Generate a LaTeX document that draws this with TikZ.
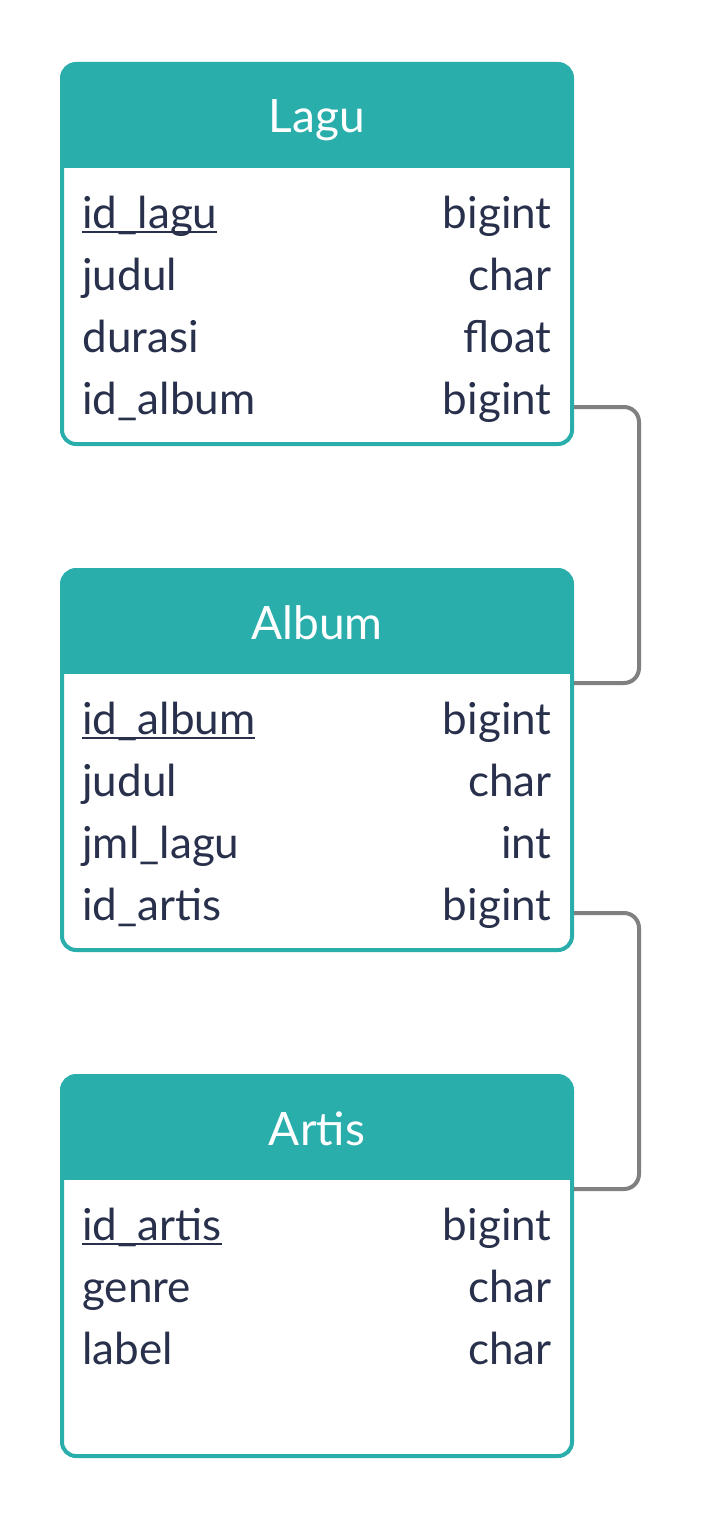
\documentclass[tikz,border=0pt]{standalone}
\usepackage{fontspec}
\setmainfont{Lato}
\usetikzlibrary{calc}

\definecolor{tealhead}{RGB}{42,174,172}
\definecolor{fieldtext}{RGB}{40,48,76}
\definecolor{relgray}{RGB}{128,128,128}

% primary key: underlined field name
\newcommand{\keyfield}[1]{\leavevmode\setbox0\hbox{#1}\rlap{\rule[-2.6pt]{\wd0}{0.9pt}}\box0}

\begin{document}
\begin{tikzpicture}[x=0.5pt,y=-0.5pt,
  tablebox/.style={draw=tealhead, line width=2pt, fill=white,
    rounded corners=7pt, minimum width=255pt, minimum height=190pt,
    inner sep=0pt,
    path picture={\fill[tealhead,sharp corners]
      (path picture bounding box.north west) rectangle
      ([yshift=-52pt]path picture bounding box.north east);}},
  headtext/.style={anchor=base, inner sep=0pt, text=white,
    font=\fontsize{23}{27}\selectfont},
  fieldname/.style={anchor=base west, inner sep=0pt, text=fieldtext,
    font=\fontsize{22}{26}\selectfont},
  fieldtype/.style={anchor=base east, inner sep=0pt, text=fieldtext,
    font=\fontsize{22}{26}\selectfont},
  relation/.style={draw=relgray, line width=2pt, rounded corners=7.5pt}
]
  \fill[white] (0,0) rectangle (704,1520);
  \useasboundingbox (0,0) rectangle (704,1520);

  % tables
  \node[tablebox] (lagu) at (317,254) {};
  \node[tablebox] (album) at (317,760) {};
  \node[tablebox] (artis) at (317,1266) {};

  % titles
  \node[headtext] (laguHead) at (317,133) {Lagu};
  \node[headtext] (albumHead) at (317,639) {Album};
  \node[headtext] (artisHead) at (317,1145) {Artis};

  % fields
  \foreach \fname/\ftype [count=\i] in {\keyfield{id\_lagu}/bigint, judul/char, durasi/float, id\_album/bigint} {
    \node[fieldname] (laguN\i) at (82,166+62*\i) {\fname};
    \node[fieldtype] (laguT\i) at (552,166+62*\i) {\ftype};
  }
  \foreach \fname/\ftype [count=\i] in {\keyfield{id\_album}/bigint, judul/char, jml\_lagu/int, id\_artis/bigint} {
    \node[fieldname] (albumN\i) at (82,672+62*\i) {\fname};
    \node[fieldtype] (albumT\i) at (552,672+62*\i) {\ftype};
  }
  \foreach \fname/\ftype [count=\i] in {\keyfield{id\_artis}/bigint, genre/char, label/char} {
    \node[fieldname] (artisN\i) at (82,1178+62*\i) {\fname};
    \node[fieldtype] (artisT\i) at (552,1178+62*\i) {\ftype};
  }

  % relations
  \draw[relation] ($(laguT4.base -| lagu.east)+(0,-7)$) -- ++(65,0)
    |- ($(album.north east)+(0,115)$);
  \draw[relation] ($(albumT4.base -| album.east)+(0,-7)$) -- ++(65,0)
    |- ($(artis.north east)+(0,115)$);
\end{tikzpicture}
\end{document}
